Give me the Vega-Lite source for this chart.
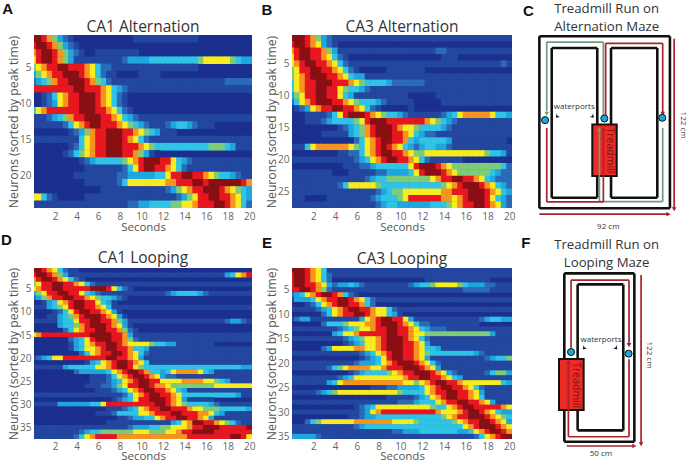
{"$schema":"https://vega.github.io/schema/vega-lite/v6.json","background":"white","padding":{"left":1,"top":1,"right":0,"bottom":0},"config":{"view":{"stroke":null},"font":"Open Sans","axis":{"domain":false,"ticks":false,"grid":false,"labelColor":"#666","labelFontSize":10,"titleColor":"#555","titleFontWeight":"normal"}},
"datasets":{
"a":[
{"n":1,"v":[9,9,8,7,5,3,2,1,0,0,0,0,0,0,0,0,0,0,0,1,1,1,1,1,1,1,1,1,1,1,1]},
{"n":2,"v":[8,9,9,8,7,5,3,2,1,0]},
{"n":3,"v":[7,8,9,9,8,7,5,3,2,1,0,0,1,1,1,1,1,1,1,1]},
{"n":4,"v":[6,8,9,9,8,7,5,3,1,1,1,1,1,1,1,1,1,2,3,3,3,3,4,4,4,4,4,4,4,4,4,5,6,6,6,6,6,5,4,3,3]},
{"n":5,"v":[5,6,7,8,8,9,9,8,8,8,7,6,4,2,2,1,1,1,1,1,1,1,1,1,1,1,1,1,1,1,1]},
{"n":6,"v":[3,5,6,7,8,8,9,9,9,8,7,6,4,2,1,1,0,0,0,0,1,1,1,1]},
{"n":7,"v":[2,3,4,5,7,8,8,9,9,9,8,7,5,4,2,1,1,1,1,1,1,1,1,1,1,1,1,1,1,1,1,1,1,1,1,1,2,2,2,2,2]},
{"n":8,"v":[8,8,8,8,8,8,8,8,9,9,8,8,8,7,6,4,3,2,1,1,1,1,1,1,1,1,1,1,1,1,1,1,1,1,1,1,1,1,1,1,1]},
{"n":9,"v":[0,0,1,2,4,6,7,8,8,9,9,9,8,7,6,4,2,1,0]},
{"n":10,"v":[0,0,1,2,3,6,7,8,8,9,9,9,8,7,6,4,2,1,0]},
{"n":11,"v":[4,6,7,8,8,8,8,8,8,9,9,9,8,8,7,6,4,2,1,0]},
{"n":12,"v":[1,1,1,2,3,4,5,7,8,8,9,9,9,8,8,7,6,4,3,2,1,1,1,1,1,1,1,1,1,1,1,1,1,1,1,1,1,1,1,1,1]},
{"n":13,"v":[1,1,1,1,1,1,2,4,6,7,8,9,9,8,8,8,7,6,5,4,3,2,1,1,1,2,3,4,4,3,2,1,1,1]},
{"n":14,"v":[0,0,0,0,0,0,0,1,2,3,5,7,8,8,9,9,9,8,8,7,6,5,4,3,1,1,1]},
{"n":15,"v":[1,1,1,1,1,1,1,1,1,4,6,7,8,8,9,9,9,8,7,6,4,2,1,1,1,1,1,1,1,1,1,1,1,1,1,1,1,1,1,1,1]},
{"n":16,"v":[0,0,0,0,0,0,0,1,2,4,6,7,8,8,9,9,9,8,8,8,7,6,5,4,4,4,4,4,4,4,4,4,4,5,5,5,4,3,1,1,1]},
{"n":17,"v":[0,0,0,0,0,0,1,2,4,5,6,7,8,8,9,9,9,8,8,7,5,3,1,0]},
{"n":18,"v":[0,0,0,0,0,0,0,0,0,1,2,3,4,4,4,4,4,5,6,7,8,9,9,9,8,8,6,4,3,2,1,1,1,1,1,1,1,1,1,1,1]},
{"n":19,"v":[0,0,0,0,0,0,0,0,0,0,1,1,1,1,1,1,1,2,4,6,8,9,9,8,8,7,6,4,2,1,1,1,1,1,1,1,1,1,1,1,1]},
{"n":20,"v":[0,0,0,0,0,0,0,0,1,1,1,1,1,1,1,1,2,2,3,3,3,3,3,4,4,6,8,8,9,9,8,8,7,6,5,4,4,3,2,1,1]},
{"n":21,"v":[0,0,0,0,0,0,0,0,0,0,1,1,1,1,1,1,2,4,6,6,6,6,6,6,6,7,7,8,8,8,9,9,8,9,9,9,9,9,9,8,7]},
{"n":22,"v":[0,0,0,0,0,0,0,0,0,0,0,0,0,1,1,1,1,1,1,1,1,1,1,1,1,2,3,5,6,7,8,8,9,9,9,8,7,6,5,4,3]},
{"n":23,"v":[6,6,4,2,1,0,0,0,0,0,1,1,1,1,1,1,1,1,1,1,1,1,1,1,1,1,1,2,3,5,6,8,8,9,9,8,8,7,6,4,3]},
{"n":24,"v":[1,1,1,1,1,1,1,1,1,1,1,1,1,1,1,1,1,1,2,2,3,3,4,4,4,4,5,5,6,6,7,8,8,8,9,9,8,7,6,4,2]}],
"b":[
{"n":1,"v":[9,9,9,8,7,5,3,2,1,1,1,1,1,1,1,1,1,1,1,1,1,1,1,1,1,1,1,1,1,1,1,1,1,1,1,1,1,1,1,1,1]},
{"n":2,"v":[8,9,9,8,7,6,3,2,1]},
{"n":3,"v":[7,8,9,9,8,8,7,5,3,1,1,1,1,1,1,1,1,1,1,1,1,1,1,1,1,1,1,2,2,1,1,1,1,1,1,1,1,1,1,1,1]},
{"n":4,"v":[6,8,9,9,8,8,7,6,4,2,1,0,0,0,0,0,0,0,0,0,0,0,0,0,0,0,0,0,1,1,1]},
{"n":5,"v":[6,7,8,9,9,8,8,7,6,4,2,1,1,1,1,1,1,1,1,1,1,1,1,1,1,1,1,1,1,1,1,1,1,1,1,1,1,1,1,2,1]},
{"n":6,"v":[5,6,8,8,9,9,8,8,7,6,4,2,1,0,0,0,0,0,1,1,1,1,1,1,1]},
{"n":7,"v":[5,6,7,8,9,9,9,8,8,7,6,4,3,3,1,1,1,1,1,1,1,1,1,1,1,1,1,1,1,1,1,1,1,1,1,1,1,1,1,1,1]},
{"n":8,"v":[4,6,7,8,8,9,9,9,8,8,8,7,6,5,4,4,4,4,3,2,2,2,2,2,2,1,1,1,1,1,1,1,1,1,1,1,1,1,1,1,1]},
{"n":9,"v":[4,6,7,8,8,9,9,8,8,6,5,4,4,3,2,1,1,1,1,1,1,1,1,1,1,1,1,1,1,1,1,1,1,1,1,1,1,1,1,1,1]},
{"n":10,"v":[3,5,6,8,8,9,9,8,8,6,4,3,1,1,1,1,1,1,1,1,1,1,0,0,0,0,0,1,1,1,1,1,1,1,1,1,1,1,1,1,1]},
{"n":11,"v":[2,4,6,7,8,9,9,9,8,8,7,6,5,4,4,4,3,2,1,1,1,1,1,0,0,0,0,0,1,1,1,1,1,1,1,1,1,1,1,1,1]},
{"n":12,"v":[0,1,2,3,6,7,8,8,9,9,8,8,7,6,4,2,1,0,0,0,0,0,1]},
{"n":13,"v":[0,0,0,1,1,1,1,2,4,6,8,9,9,9,8,7,6,5,4,4,3,2,1,1,1,1,1,1,2,3,4,6,7,7,7,7,7,6,4,4,3]},
{"n":14,"v":[0,0,0,1,1,1,2,3,4,4,4,4,5,6,8,9,9,9,8,8,8,8,8,8,8,7,6,5,4,3,2,1,1,1,1,1,1,1,1,1,1]},
{"n":15,"v":[0,0,0,0,0,0,0,0,0,1,2,3,4,5,7,8,9,9,9,8,7,6,6,5,4,4,4,4,3,2,1,1,1,1,1,1,1,1,1,1,1]},
{"n":16,"v":[0,0,0,0,0,0,1,1,1,1,1,3,4,5,7,8,9,9,9,8,8,7,6,4,3,2,2,1,1,1,1,1,1,1,1,1,1,1,1,1,1]},
{"n":17,"v":[0,0,0,0,0,0,0,0,0,0,0,0,2,4,6,7,8,9,9,8,8,7,4,3,4,4,4,4,4,3,1,1,1,1,1,1,1,1,1,1]},
{"n":18,"v":[1,1,1,4,6,7,7,7,7,7,7,6,5,4,6,7,8,9,8,7,6,4,3,2,3,4,4,3,3,2,1,1,1,1,1,1,1,1,1,1,1]},
{"n":19,"v":[0,0,0,0,0,0,0,0,0,1,1,2,2,4,6,7,8,9,9,8,8,7,6,5,5,6,6,6,6,6,6,6,6,6,6,6,5,4,4,3,1]},
{"n":20,"v":[1,1,1,1,1,1,1,1,1,1,1,1,2,3,4,6,7,8,9,9,8,8,7,6,4,2,1,1,1,1,1,1,0,0,0,0,0,0,0,0,0]},
{"n":21,"v":[0,0,0,0,0,0,0,0,0,0,1,1,1,2,2,3,4,4,4,4,4,4,6,8,9,9,9,8,7,6,5,5,5,5,5,5,5,5,5,4,2]},
{"n":22,"v":[1,1,1,1,1,1,1,1,0,0,0,1,1,1,1,1,2,2,3,3,3,3,4,6,8,9,9,9,8,7,6,5,5,5,5,5,5,4,3,2,2]},
{"n":23,"v":[1,1,1,1,1,1,1,1,1,1,1,1,1,1,2,3,4,4,5,5,5,5,5,5,5,5,6,7,8,8,9,9,8,8,7,6,4,3,2,2,2]},
{"n":24,"v":[1,1,1,1,1,1,1,1,1,2,4,6,6,6,6,6,5,4,4,4,4,4,4,4,4,4,4,4,5,6,7,8,9,9,9,8,7,6,4,3,2]},
{"n":25,"v":[1,1,1,1,1,1,1,1,1,1,1,1,1,1,1,1,2,3,4,5,5,6,6,6,6,6,6,6,7,7,8,8,8,9,9,9,8,7,6,4,3]},
{"n":26,"v":[1,1,1,0,0,0,0,1,1,1,1,1,1,1,1,2,3,4,4,4,5,6,8,8,8,8,8,8,7,7,6,7,8,9,9,9,8,6,4,3,2]},
{"n":27,"v":[1,1,1,1,1,1,1,1,1,1,1,1,1,1,1,1,2,3,4,4,3,3,3,3,3,3,4,4,4,5,6,7,8,8,9,9,8,7,6,3,2]}],
"d":[
{"n":1,"v":[9,9,8,7,6,4,2,1,1,0]},
{"n":2,"v":[8,9,9,8,7,5,3,1,1,1,1,1,1,1,1,1,1,1,1,1,1,1,1,1,1,1,1,1,1,1,1,1,1,1,1,1,3,4,6,7,8]},
{"n":3,"v":[7,8,9,9,8,7,6,4,2,1]},
{"n":4,"v":[5,6,8,8,9,9,8,8,7,6,4,2,1,1,1,1,1,1,1,1,1,1,1,1,1,1,1,1,1,1,1,1,1,1,1,1,1,1,1,1,1]},
{"n":5,"v":[6,7,8,8,9,9,8,8,8,8,8,9,9,9,8,6,4,2,1,0]},
{"n":6,"v":[3,5,6,8,8,9,9,8,8,6,4,3,2,1,1,1,1,1,1,1,1,1,1,1,1,2,3,4,4,4,4,3,2,1,1,1,1,1,1,1,1]},
{"n":7,"v":[2,3,5,7,8,8,9,9,8,8,7,6,5,4,4,3,2,1,0]},
{"n":8,"v":[0,0,1,3,4,6,7,8,9,9,8,8,6,4,3,1]},
{"n":9,"v":[1,1,1,3,4,5,6,8,9,9,8,8,7,6,4,1,1,1,1,1,1,1,1,1,1,1,1,1,1,1,1,1,1,1,1,1,1,1,1,1,1]},
{"n":10,"v":[0,0,0,0,1,2,4,6,8,9,9,8,8,7,6,3,1,0]},
{"n":11,"v":[0,0,0,1,1,3,4,5,7,8,9,9,9,8,7,6,3,1,0]},
{"n":12,"v":[1,1,1,1,1,3,4,4,6,8,8,9,9,8,8,7,5,3,1,1,1,1,1,1,1,1,1,1,1,1,1,1,1,1,1,1,2,3,3,2,1]},
{"n":13,"v":[0,0,0,0,0,3,4,4,5,7,8,9,9,9,8,7,6,3,1,0]},
{"n":14,"v":[0,0,0,0,0,0,2,4,6,7,8,8,9,9,8,8,7,5,2,1,0]},
{"n":15,"v":[6,7,8,8,8,8,8,8,8,8,8,9,9,9,9,8,8,7,3,1,1,1,1,1,1,1,1,1,1,1,1,1,1,1,1,1,1,1,1,1,1]},
{"n":16,"v":[0,0,0,0,0,0,0,2,3,4,6,8,9,9,9,8,8,7,5,2,1,1,1,1,1,1,1,1,1,1,1,1,1,1,1,1,1,1,1,1,1]},
{"n":17,"v":[0,0,0,0,0,0,0,1,3,4,6,7,8,8,9,9,8,7,6,6,6,6,5,4,4,3,3,1,1,1,1,1,1,1]},
{"n":18,"v":[0,0,0,0,0,0,0,1,3,4,6,6,7,8,9,9,8,8,7,4,4,3,1,1,1,1,1,1,1,1,1,1,1,1,1,1,1,1,1,1,1]},
{"n":19,"v":[0,0,0,0,0,0,0,0,0,2,4,6,7,8,8,9,9,8,7,6,4,2,1,1,1,1,1,1,1,1,1,1,1,1,1,1,1,1,1,1,1]},
{"n":20,"v":[1,2,3,4,6,6,8,8,8,8,8,8,8,8,9,9,8,8,7,6,3,1,1,1,1,1,1,1,1,1,1,1,1,1,1,1,1,1,1,1,1]},
{"n":21,"v":[0,0,0,0,0,0,0,0,0,0,1,3,4,6,7,8,9,9,8,7,6,4,1,1,1,1,1,1,1,1,1,1,1,1,1,1,1,1,1,1,1]},
{"n":22,"v":[1,1,1,1,1,1,3,4,4,4,4,4,6,6,7,8,9,9,8,6,5,4,4,4,4,4,4,4,4,4,4,4,4,4,4,4,4,4,4,3,3]},
{"n":23,"v":[0,0,0,0,0,0,0,0,2,3,3,3,3,3,4,6,7,8,9,9,8,7,4,4,3,4,6,7,7,7,7,6,4,3,1,1,1,1,1,1,1]},
{"n":24,"v":[0,0,0,0,0,0,0,0,0,0,0,1,1,1,2,4,6,7,8,9,9,8,7,6,3,2,2,1,1,1,1,1,1,1,1,1,1,1,1,1,1]},
{"n":25,"v":[0,0,0,0,0,0,0,0,0,0,0,1,1,1,2,3,4,6,7,8,9,9,8,8,6,6,6,6,7,7,7,7,6,6,5,4,3,1,1,1,1]},
{"n":26,"v":[0,0,0,0,0,0,0,0,0,0,1,1,1,2,2,3,5,6,8,8,9,9,8,7,7,6,5,5,5,5,5,5,5,5,6,6,6,6,6,6,6]},
{"n":27,"v":[0,0,0,0,0,0,0,0,0,0,0,0,1,1,1,2,3,4,6,7,8,9,9,8,8,7,6,4,3,1,1,1,1,1,1,1,1,1,1,1,1]},
{"n":28,"v":[1,1,1,1,1,1,1,1,1,1,1,1,1,1,1,1,1,2,4,6,7,8,9,9,8,8,7,6,4,4,4,4,4,4,4,4,4,4,3,1,1]},
{"n":29,"v":[0,0,0,0,0,0,0,0,0,0,0,0,0,0,0,1,2,3,4,6,8,8,9,9,9,8,7,6,3,1,1,1,1,1]},
{"n":30,"v":[1,1,1,1,1,3,3,3,3,3,3,4,4,6,8,8,8,8,8,8,8,8,8,9,9,8,7,6,5,4,4,4,4,3,2,1,1,1,1,1,1]},
{"n":31,"v":[0,0,0,0,0,0,0,0,0,0,0,0,0,0,1,1,1,2,3,4,6,7,8,8,9,9,8,8,8,7,6,6,5,5,5,4,4,4,4,4,3]},
{"n":32,"v":[0,0,0,0,0,0,0,0,0,0,0,0,1,1,1,2,4,4,4,4,6,6,7,8,8,8,9,9,8,8,8,7,7,6,4,3,1,1,1,1,1]},
{"n":33,"v":[0,0,0,0,0,0,0,0,0,0,0,0,0,0,0,0,1,1,2,3,3,4,4,6,7,8,8,9,9,8,8,7,6,3,1,1,1,1,1,1,1]},
{"n":34,"v":[0,0,0,0,0,0,0,0,0,0,0,0,0,0,1,1,1,1,1,1,1,1,1,1,1,1,3,4,6,7,9,9,8,8,7,6,5,4,2,1,1]},
{"n":35,"v":[1,1,1,1,1,1,1,1,1,1,1,1,1,1,1,1,1,1,2,3,3,3,4,4,5,5,6,6,6,7,8,8,9,9,9,8,8,8,8,8,9]},
{"n":36,"v":[1,1,1,1,1,1,1,1,1,2,3,4,4,5,5,5,5,5,5,6,6,6,5,5,5,6,6,7,8,8,9,9,9,9,8,8,8,8,8,8,8]},
{"n":37,"v":[1,1,1,1,1,1,1,1,2,4,6,7,8,8,8,8,7,7,7,7,7,7,7,7,7,7,7,7,7,8,8,8,8,8,8,8,8,9,9,8,6]}],
"e":[
{"n":1,"v":[9,9,9,8,7,6,4,1,1,1,1,1,1,1,1,1,1,1,1,1,1,1,1,1,1,1,1,1,1,1,1,1,1,1,1,1,1,1,1,1,1]},
{"n":2,"v":[8,9,9,8,7,6,4,2,1,1,1,1,1,1,1,1,1,1,1,1,1,1,1,1,1,1,1,1,1,1,1,1,1,1,1,1,1,1,1,1,1]},
{"n":3,"v":[8,9,9,8,7,6,4,2,0,0,0,0,0,0,0,0,0,0,0,0,0,0,0,0,0,1,1,1,1,1,1,1,1,1,1,1,1,0,0,0,0]},
{"n":4,"v":[8,9,9,8,8,7,6,3,2,3,3,4,3,2,1,1,1,1,1,1,1,1,2,3,4,4,5,6,6,6,6,5,4,3,3,3,2,2,1,1,1]},
{"n":5,"v":[8,8,9,9,8,7,5,2,1,1,1,1,1,1,1,1,1,1,1,1,1,1,1,1,1,1,1,1,1,1,1,1,2,2,2,2,2,1,1,1,1]},
{"n":6,"v":[2,3,4,6,7,8,9,9,8,7,4,2,1,0]},
{"n":7,"v":[1,3,3,3,4,6,7,8,8,9,9,8,7,6,4,2,1,1,1,1,1,1,1,1,1,1,1,1,1,1,1,1,1,1,1,1,1,1,1,1,1]},
{"n":8,"v":[0,0,0,1,2,4,6,7,8,9,9,8,8,7,4,2,0]},
{"n":9,"v":[1,1,1,1,1,2,3,4,6,7,8,9,9,8,8,7,6,6,4,2,1,1,1,1,1,1,1,1,1,1,1,1,1,1,1,1,1,1,1,1,1]},
{"n":10,"v":[0,0,0,0,0,0,2,4,6,7,8,8,9,9,8,7,6,6,4,3,1,0]},
{"n":11,"v":[1,2,3,3,1,1,1,1,1,1,1,1,1,3,6,7,8,9,9,8,8,6,3,1,1,1,1,1,1,1,1,1,1,1,1,2,3,4,4,3,3]},
{"n":12,"v":[0,0,0,0,0,0,2,4,4,4,5,6,6,6,7,7,8,9,9,9,8,7,6,4,2,2,1,1,1,1,1,1,1,1,1]},
{"n":13,"v":[1,1,1,1,1,1,1,1,1,2,3,4,5,6,6,7,8,8,9,9,8,8,7,6,4,3,2,2,2,1,1,1,1,1,1,1,1,1,1,1,1]},
{"n":14,"v":[0,0,0,0,0,0,0,0,3,4,6,6,7,8,8,8,8,8,9,9,8,8,7,6,6,5,5,5,5,5,5,5,5,5,5,5,5,3,1,1,1]},
{"n":15,"v":[1,1,1,1,1,1,1,1,1,1,2,3,4,5,6,6,7,8,9,9,9,8,7,6,4,2,1,1,1,1,1,1,1,1,1,1,1,1,1,1,1]},
{"n":16,"v":[0,0,0,0,0,0,0,0,0,0,1,2,3,4,6,6,7,8,9,9,9,8,8,7,6,3,1,1,1,1,1,1,1,1,1,1,1,1,1,1,1]},
{"n":17,"v":[0,0,0,0,0,0,2,3,6,6,6,6,7,7,6,6,7,8,9,9,9,8,8,7,6,4,4,3,1,1,1,1,1,1,1,1,1,1,1,1,1]},
{"n":18,"v":[1,1,1,1,1,1,1,1,1,1,1,1,1,2,3,4,6,7,8,9,9,8,8,7,6,5,4,4,4,4,4,4,4,4,3,2,1,1,1,1,1]},
{"n":19,"v":[0,0,0,0,0,0,0,0,0,0,0,0,0,1,2,3,4,6,8,9,9,8,8,7,6,3,1,1,1,1,1,1,1,1,1,1,2,3,4,4,5]},
{"n":20,"v":[1,1,1,1,1,1,1,1,1,1,1,1,2,3,3,3,4,6,7,8,9,9,9,8,7,6,4,2,1,1,1,1,1,1,1,1,1,1,1,1,1]},
{"n":21,"v":[1,1,1,1,1,1,1,2,4,5,6,7,7,7,7,6,6,7,8,8,8,9,9,9,8,7,6,3,1,1,1,1,1,1,1,1,1,1,1,1,1]},
{"n":22,"v":[0,0,0,0,0,0,0,0,0,0,0,1,2,3,4,4,4,4,5,6,7,8,8,9,9,9,8,7,6,3,2,1,1,1,1,1,2,4,5,5,3]},
{"n":23,"v":[1,1,1,1,1,1,1,1,1,2,3,4,6,6,6,6,6,6,6,6,6,7,8,8,9,9,8,8,7,6,4,3,1,1,1,1,1,1,1,1,1]},
{"n":24,"v":[1,1,1,1,1,1,1,3,4,6,7,7,7,7,7,7,7,7,7,7,7,6,6,5,6,7,8,9,9,8,8,7,6,6,6,6,6,6,6,4,3]},
{"n":25,"v":[0,0,0,0,0,0,0,0,0,0,0,0,0,0,0,1,1,1,2,2,3,3,3,3,4,6,7,8,9,9,8,8,7,6,4,2,1,1,1,1,1]},
{"n":26,"v":[1,1,1,1,1,2,3,4,5,6,6,6,6,6,6,6,6,6,6,6,5,4,4,4,4,6,7,8,8,9,9,8,8,7,6,3,1,1,1,1,1]},
{"n":27,"v":[0,0,0,0,0,0,0,0,0,0,0,0,0,0,0,0,0,0,1,1,1,1,1,2,3,4,6,7,8,9,9,8,8,7,6,4,1,1,1,1,1]},
{"n":28,"v":[1,1,1,1,1,1,1,1,1,1,1,1,1,1,1,1,1,1,1,1,2,2,2,3,4,4,4,6,7,8,8,9,9,8,8,7,6,3,1,1,1]},
{"n":29,"v":[0,0,0,0,0,0,0,0,0,0,0,0,1,2,3,4,6,6,6,6,6,6,6,6,6,6,5,4,4,6,7,8,9,9,8,8,8,8,8,7,6]},
{"n":30,"v":[1,1,1,1,1,1,1,1,1,1,1,1,1,2,3,6,7,8,8,8,8,8,8,8,8,8,8,7,6,6,6,7,8,9,9,8,7,6,4,3,3]},
{"n":31,"v":[0,0,0,0,0,0,0,0,0,0,0,1,1,2,3,3,4,4,4,4,4,4,4,4,4,4,4,4,5,6,7,8,8,9,9,9,8,7,6,5,4]},
{"n":32,"v":[0,0,0,2,4,5,6,6,6,6,6,6,7,7,7,7,7,7,7,6,6,6,6,5,4,4,4,4,4,4,5,6,7,8,8,9,9,8,7,6,3]},
{"n":33,"v":[1,1,1,1,1,1,1,1,1,1,1,1,2,3,4,4,4,4,4,4,4,4,4,4,4,4,4,4,4,4,4,4,6,7,8,9,9,9,8,7,6]},
{"n":34,"v":[1,1,1,1,1,1,1,1,1,1,1,1,1,1,1,1,1,1,1,2,2,3,3,3,4,4,4,4,4,4,4,3,3,4,6,7,8,9,9,8,7]},
{"n":35,"v":[3,3,3,3,3,2,1,1,1,1,1,1,1,1,1,1,1,1,1,1,1,1,1,1,1,1,1,1,1,1,1,1,1,1,2,4,6,7,8,9,9]}]
},
"bounds":"flush","columns":3,"spacing":{"column":40,"row":60},
"concat":[
{"width":218,"height":173,"view":{"fill":"#1b2f8e"},"layer":[
{"data":{"name":"a"},"transform":[{"flatten":["v"]},{"window":[{"op":"row_number","as":"i"}],"groupby":["n"]}],"mark":{"type":"rect","width":6,"height":7.6,"clip":true},"encoding":{
"x":{"field":"i","type":"quantitative","scale":{"domain":[1.1,41.5],"nice":false,"zero":false},"axis":{"values":[5,9,13,17,21,25,29,33,37,41],"tickCount":50,"labelOverlap":false,"labelExpr":"(datum.value-1)/2","labelPadding":3,"title":"Seconds","titlePadding":0,"titleFontSize":11.5}},
"y":{"field":"n","type":"quantitative","scale":{"domain":[0.5,24.5],"reverse":true,"nice":false,"zero":false},"axis":{"values":[5,10,15,20],"format":"d","tickCount":50,"labelOverlap":false,"labelPadding":3,"title":"Neurons (sorted by peak time)","titleFontSize":12.2,"titlePadding":-1}},
"color":{"field":"v","type":"quantitative","scale":{"domain":[0,1,2,3,4,5,6,7,8,9],"range":["#1b2f8e","#23479f","#2a6ab8","#1ea6dd","#2fc4e6","#7ecb78","#f8ec1e","#f7941e","#e8171f","#8a0f13"]},"legend":null}}},
{"data":{"values":[{"i":21.3,"n":-0.6,"l":"CA1 Alternation"}]},"mark":{"type":"text","fontSize":15.5,"color":"#333"},"encoding":{"x":{"field":"i","type":"quantitative"},"y":{"field":"n","type":"quantitative"},"text":{"field":"l"}}},
{"data":{"values":[{"i":-3.8,"n":-3.1,"l":"A"}]},"mark":{"type":"text","font":"Liberation Sans","fontWeight":"bold","fontSize":15,"color":"#111"},"encoding":{"x":{"field":"i","type":"quantitative"},"y":{"field":"n","type":"quantitative"},"text":{"field":"l"}}}]},
{"width":220,"height":173,"view":{"fill":"#1b2f8e"},"layer":[
{"data":{"name":"b"},"transform":[{"flatten":["v"]},{"window":[{"op":"row_number","as":"i"}],"groupby":["n"]}],"mark":{"type":"rect","width":6,"height":6.8,"clip":true},"encoding":{
"x":{"field":"i","type":"quantitative","scale":{"domain":[1.1,41.5],"nice":false,"zero":false},"axis":{"values":[5,9,13,17,21,25,29,33,37,41],"tickCount":50,"labelOverlap":false,"labelExpr":"(datum.value-1)/2","labelPadding":3,"title":"Seconds","titlePadding":0,"titleFontSize":11.5}},
"y":{"field":"n","type":"quantitative","scale":{"domain":[0.5,27.5],"reverse":true,"nice":false,"zero":false},"axis":{"values":[5,10,15,20,25],"format":"d","tickCount":50,"labelOverlap":false,"labelPadding":3,"title":"Neurons (sorted by peak time)","titleFontSize":12.2,"titlePadding":-1}},
"color":{"field":"v","type":"quantitative","scale":{"domain":[0,1,2,3,4,5,6,7,8,9],"range":["#1b2f8e","#23479f","#2a6ab8","#1ea6dd","#2fc4e6","#7ecb78","#f8ec1e","#f7941e","#e8171f","#8a0f13"]},"legend":null}}},
{"data":{"values":[{"i":21.3,"n":-0.75,"l":"CA3 Alternation"}]},"mark":{"type":"text","fontSize":15.5,"color":"#333"},"encoding":{"x":{"field":"i","type":"quantitative"},"y":{"field":"n","type":"quantitative"},"text":{"field":"l"}}},
{"data":{"values":[{"i":-3.5,"n":-3.4,"l":"B"}]},"mark":{"type":"text","font":"Liberation Sans","fontWeight":"bold","fontSize":15,"color":"#111"},"encoding":{"x":{"field":"i","type":"quantitative"},"y":{"field":"n","type":"quantitative"},"text":{"field":"l"}}}]},
{"width":128,"height":173,"layer":[
{"data":{"values":[{"x":0,"y":0,"x2":92,"y2":0},{"x":0,"y":122,"x2":92,"y2":122},{"x":0,"y":0,"x2":0,"y2":122},{"x":92,"y":0,"x2":92,"y2":122},{"x":8.7,"y":7.5,"x2":40.8,"y2":7.5},{"x":8.7,"y":113.7,"x2":40.8,"y2":113.7},{"x":8.7,"y":7.5,"x2":8.7,"y2":113.7},{"x":40.8,"y":7.5,"x2":40.8,"y2":113.7},{"x":50.5,"y":7.5,"x2":83.1,"y2":7.5},{"x":50.5,"y":113.7,"x2":83.1,"y2":113.7},{"x":50.5,"y":7.5,"x2":50.5,"y2":113.7},{"x":83.1,"y":7.5,"x2":83.1,"y2":113.7}]},"mark":{"type":"rule","strokeWidth":2.6,"color":"#111"},"encoding":{"x":{"field":"x","type":"quantitative","scale":{"domain":[8.9,99.1],"nice":false,"zero":false},"axis":null},"x2":{"field":"x2"},"y":{"field":"y","type":"quantitative","scale":{"domain":[0.2,122.9],"nice":false,"zero":false},"axis":null},"y2":{"field":"y2"}}},
{"data":{"values":[{"x":37.3,"x2":54.5,"y":22.9,"y2":59.4}]},"mark":{"type":"rect","fill":"#ee2a24","stroke":"#111","strokeWidth":2},"encoding":{"x":{"field":"x","type":"quantitative"},"x2":{"field":"x2"},"y":{"field":"y","type":"quantitative"},"y2":{"field":"y2"}}},
{"data":{"values":[{"k":"green","x":5.2,"y":68.9,"x2":5.2,"y2":117.9},{"k":"green","x":5.2,"y":117.9,"x2":45.1,"y2":117.9},{"k":"green","x":45.1,"y":117.9,"x2":45.1,"y2":66},{"k":"green","x":42.3,"y":55,"x2":42.3,"y2":4.7},{"k":"green","x":42.3,"y":4.7,"x2":86.9,"y2":4.7},{"k":"green","x":86.9,"y":4.7,"x2":86.9,"y2":57},{"k":"red","x":46.7,"y":66,"x2":46.7,"y2":117},{"k":"red","x":46.7,"y":117,"x2":86.9,"y2":117},{"k":"red","x":86.9,"y":117,"x2":86.9,"y2":68},{"k":"red","x":5.2,"y":57,"x2":5.2,"y2":4.5},{"k":"red","x":5.2,"y":4.5,"x2":45.1,"y2":4.5},{"k":"red","x":45.1,"y":4.5,"x2":45.1,"y2":55},{"k":"red","x":95,"y":120.3,"x2":95,"y2":-0.7},{"k":"red","x":0,"y":-4.2,"x2":91,"y2":-4.2}]},"mark":{"type":"rule","strokeWidth":1.7},"encoding":{"x":{"field":"x","type":"quantitative"},"x2":{"field":"x2"},"y":{"field":"y","type":"quantitative"},"y2":{"field":"y2"},"color":{"field":"k","type":"nominal","scale":{"domain":["red","green"],"range":["#a6232f","#6f9c80"]},"legend":null}}},
{"data":{"values":[{"k":"green","d":"d","x":5.2,"y":67},{"k":"red","d":"d","x":86.9,"y":67},{"k":"green","d":"u","x":42.3,"y":56},{"k":"red","d":"u","x":45.1,"y":56},{"k":"red","d":"d","x":95,"y":-0.7},{"k":"red","d":"r","x":91,"y":-4.2}]},"mark":{"type":"point","filled":true,"opacity":1,"size":22},"encoding":{"x":{"field":"x","type":"quantitative"},"y":{"field":"y","type":"quantitative"},"color":{"field":"k","type":"nominal","scale":{"domain":["red","green"],"range":["#a6232f","#6f9c80"]},"legend":null},"shape":{"field":"d","type":"nominal","scale":{"domain":["u","d","r"],"range":["triangle-up","triangle-down","triangle-right"]},"legend":null}}},
{"data":{"values":[{"x":4,"y":62.5},{"x":45.8,"y":63.7},{"x":86.6,"y":64.2}]},"mark":{"type":"point","filled":true,"opacity":1,"size":50,"fill":"#19a8d8","stroke":"#111","strokeWidth":1},"encoding":{"x":{"field":"x","type":"quantitative"},"y":{"field":"y","type":"quantitative"}}},
{"data":{"values":[{"x":12.7,"y":65.3}]},"mark":{"type":"point","filled":true,"opacity":1,"size":22,"shape":"M-1,-0.6L0,1L1,-0.6L0,-0.1Z","color":"#111","angle":45},"encoding":{"x":{"field":"x","type":"quantitative"},"y":{"field":"y","type":"quantitative"}}},
{"data":{"values":[{"x":37.3,"y":65.3}]},"mark":{"type":"point","filled":true,"opacity":1,"size":22,"shape":"M-1,-0.6L0,1L1,-0.6L0,-0.1Z","color":"#111","angle":-45},"encoding":{"x":{"field":"x","type":"quantitative"},"y":{"field":"y","type":"quantitative"}}},
{"data":{"values":[{"x":24.6,"y":71.7,"l":"waterports"},{"x":48.6,"y":-13.2,"l":"92 cm"}]},"mark":{"type":"text","fontSize":8,"color":"#333"},"encoding":{"x":{"field":"x","type":"quantitative"},"y":{"field":"y","type":"quantitative"},"text":{"field":"l"}}},
{"data":{"values":[{"x":101.4,"y":59,"l":"122 cm"}]},"mark":{"type":"text","fontSize":8,"color":"#333","angle":90},"encoding":{"x":{"field":"x","type":"quantitative"},"y":{"field":"y","type":"quantitative"},"text":{"field":"l"}}},
{"data":{"values":[{"x":49.8,"y":41,"l":"Treadmill"}]},"mark":{"type":"text","fontSize":10.5,"color":"#7a1414","angle":90},"encoding":{"x":{"field":"x","type":"quantitative"},"y":{"field":"y","type":"quantitative"},"text":{"field":"l"}}},
{"data":{"values":[{"x":47.4,"y":141.5,"l":"Treadmill Run on"},{"x":47.4,"y":128.5,"l":"Alternation Maze"}]},"mark":{"type":"text","fontSize":13.2,"color":"#333"},"encoding":{"x":{"field":"x","type":"quantitative"},"y":{"field":"y","type":"quantitative"},"text":{"field":"l"}}},
{"data":{"values":[{"x":-7.7,"y":140,"l":"C"}]},"mark":{"type":"text","font":"Liberation Sans","fontWeight":"bold","fontSize":15,"color":"#111"},"encoding":{"x":{"field":"x","type":"quantitative"},"y":{"field":"y","type":"quantitative"},"text":{"field":"l"}}}
]},
{"width":218,"height":171,"view":{"fill":"#1b2f8e"},"layer":[
{"data":{"name":"d"},"transform":[{"flatten":["v"]},{"window":[{"op":"row_number","as":"i"}],"groupby":["n"]}],"mark":{"type":"rect","width":6,"height":5,"clip":true},"encoding":{
"x":{"field":"i","type":"quantitative","scale":{"domain":[1.1,41.5],"nice":false,"zero":false},"axis":{"values":[5,9,13,17,21,25,29,33,37,41],"tickCount":50,"labelOverlap":false,"labelExpr":"(datum.value-1)/2","labelPadding":2,"title":"Seconds","titlePadding":-1,"titleFontSize":11.5}},
"y":{"field":"n","type":"quantitative","scale":{"domain":[0.5,37.5],"reverse":true,"nice":false,"zero":false},"axis":{"values":[5,10,15,20,25,30,35],"format":"d","tickCount":50,"labelOverlap":false,"labelPadding":3,"title":"Neurons (sorted by peak time)","titleFontSize":12.2,"titlePadding":-1}},
"color":{"field":"v","type":"quantitative","scale":{"domain":[0,1,2,3,4,5,6,7,8,9],"range":["#1b2f8e","#23479f","#2a6ab8","#1ea6dd","#2fc4e6","#7ecb78","#f8ec1e","#f7941e","#e8171f","#8a0f13"]},"legend":null}}},
{"data":{"values":[{"i":21.3,"n":-1.66,"l":"CA1 Looping"}]},"mark":{"type":"text","fontSize":15.5,"color":"#333"},"encoding":{"x":{"field":"i","type":"quantitative"},"y":{"field":"n","type":"quantitative"},"text":{"field":"l"}}},
{"data":{"values":[{"i":-4,"n":-5.56,"l":"D"}]},"mark":{"type":"text","font":"Liberation Sans","fontWeight":"bold","fontSize":15,"color":"#111"},"encoding":{"x":{"field":"i","type":"quantitative"},"y":{"field":"n","type":"quantitative"},"text":{"field":"l"}}}]},
{"width":220,"height":171,"view":{"fill":"#1b2f8e"},"layer":[
{"data":{"name":"e"},"transform":[{"flatten":["v"]},{"window":[{"op":"row_number","as":"i"}],"groupby":["n"]}],"mark":{"type":"rect","width":6,"height":5.3,"clip":true},"encoding":{
"x":{"field":"i","type":"quantitative","scale":{"domain":[1.1,41.5],"nice":false,"zero":false},"axis":{"values":[5,9,13,17,21,25,29,33,37,41],"tickCount":50,"labelOverlap":false,"labelExpr":"(datum.value-1)/2","labelPadding":2,"title":"Seconds","titlePadding":-1,"titleFontSize":11.5}},
"y":{"field":"n","type":"quantitative","scale":{"domain":[0.5,35.5],"reverse":true,"nice":false,"zero":false},"axis":{"values":[5,10,15,20,25,30,35],"format":"d","tickCount":50,"labelOverlap":false,"labelPadding":3,"title":"Neurons (sorted by peak time)","titleFontSize":12.2,"titlePadding":-1}},
"color":{"field":"v","type":"quantitative","scale":{"domain":[0,1,2,3,4,5,6,7,8,9],"range":["#1b2f8e","#23479f","#2a6ab8","#1ea6dd","#2fc4e6","#7ecb78","#f8ec1e","#f7941e","#e8171f","#8a0f13"]},"legend":null}}},
{"data":{"values":[{"i":21.3,"n":-1.34,"l":"CA3 Looping"}]},"mark":{"type":"text","fontSize":15.5,"color":"#333"},"encoding":{"x":{"field":"i","type":"quantitative"},"y":{"field":"n","type":"quantitative"},"text":{"field":"l"}}},
{"data":{"values":[{"i":-3.5,"n":-4.6,"l":"E"}]},"mark":{"type":"text","font":"Liberation Sans","fontWeight":"bold","fontSize":15,"color":"#111"},"encoding":{"x":{"field":"i","type":"quantitative"},"y":{"field":"n","type":"quantitative"},"text":{"field":"l"}}}]},
{"width":128,"height":171,"layer":[
{"data":{"values":[{"x":0,"y":0,"x2":50,"y2":0},{"x":0,"y":122,"x2":50,"y2":122},{"x":0,"y":0,"x2":0,"y2":122},{"x":50,"y":0,"x2":50,"y2":122},{"x":9.5,"y":8.2,"x2":42.1,"y2":8.2},{"x":9.5,"y":114,"x2":42.1,"y2":114},{"x":9.5,"y":8.2,"x2":9.5,"y2":114},{"x":42.1,"y":8.2,"x2":42.1,"y2":114}]},"mark":{"type":"rule","strokeWidth":2.6,"color":"#111"},"encoding":{"x":{"field":"x","type":"quantitative","scale":{"domain":[-8.8,82.6],"nice":false,"zero":false},"axis":null},"x2":{"field":"x2"},"y":{"field":"y","type":"quantitative","scale":{"domain":[1.96,125.9],"nice":false,"zero":false},"axis":null},"y2":{"field":"y2"}}},
{"data":{"values":[{"x":-3.8,"x2":13.8,"y":22.9,"y2":59.9}]},"mark":{"type":"rect","fill":"#ee2a24","stroke":"#111","strokeWidth":2},"encoding":{"x":{"field":"x","type":"quantitative"},"x2":{"field":"x2"},"y":{"field":"y","type":"quantitative"},"y2":{"field":"y2"}}},
{"data":{"values":[{"x":4.8,"y":68.1,"x2":4.8,"y2":117.1},{"x":4.8,"y":117.1,"x2":46.2,"y2":117.1},{"x":46.2,"y":117.1,"x2":46.2,"y2":70.5},{"x":46.2,"y":59.7,"x2":46.2,"y2":3.6},{"x":46.2,"y":3.6,"x2":2.9,"y2":3.6},{"x":2.9,"y":3.6,"x2":2.9,"y2":57.2},{"x":54.8,"y":120.8,"x2":54.8,"y2":-1.9},{"x":1.7,"y":-3.1,"x2":50,"y2":-3.1}]},"mark":{"type":"rule","strokeWidth":1.7,"color":"#a6232f"},"encoding":{"x":{"field":"x","type":"quantitative"},"x2":{"field":"x2"},"y":{"field":"y","type":"quantitative"},"y2":{"field":"y2"}}},
{"data":{"values":[{"d":"d","x":46.2,"y":70},{"d":"u","x":2.9,"y":58},{"d":"d","x":54.8,"y":-1.9},{"d":"r","x":50,"y":-3.1}]},"mark":{"type":"point","filled":true,"opacity":1,"size":22,"color":"#a6232f"},"encoding":{"x":{"field":"x","type":"quantitative"},"y":{"field":"y","type":"quantitative"},"shape":{"field":"d","type":"nominal","scale":{"domain":["u","d","r"],"range":["triangle-up","triangle-down","triangle-right"]},"legend":null}}},
{"data":{"values":[{"x":4.8,"y":65},{"x":45.9,"y":63.8}]},"mark":{"type":"point","filled":true,"opacity":1,"size":50,"fill":"#19a8d8","stroke":"#111","strokeWidth":1},"encoding":{"x":{"field":"x","type":"quantitative"},"y":{"field":"y","type":"quantitative"}}},
{"data":{"values":[{"x":14.3,"y":68.1}]},"mark":{"type":"point","filled":true,"opacity":1,"size":22,"shape":"M-1,-0.6L0,1L1,-0.6L0,-0.1Z","color":"#111","angle":45},"encoding":{"x":{"field":"x","type":"quantitative"},"y":{"field":"y","type":"quantitative"}}},
{"data":{"values":[{"x":36.7,"y":68.1}]},"mark":{"type":"point","filled":true,"opacity":1,"size":22,"shape":"M-1,-0.6L0,1L1,-0.6L0,-0.1Z","color":"#111","angle":-45},"encoding":{"x":{"field":"x","type":"quantitative"},"y":{"field":"y","type":"quantitative"}}},
{"data":{"values":[{"x":26.2,"y":73.7,"l":"waterports"},{"x":26.2,"y":-8.7,"l":"50 cm"}]},"mark":{"type":"text","fontSize":8,"color":"#333"},"encoding":{"x":{"field":"x","type":"quantitative"},"y":{"field":"y","type":"quantitative"},"text":{"field":"l"}}},
{"data":{"values":[{"x":60.5,"y":62.8,"l":"122 cm"}]},"mark":{"type":"text","fontSize":8,"color":"#333","angle":90},"encoding":{"x":{"field":"x","type":"quantitative"},"y":{"field":"y","type":"quantitative"},"text":{"field":"l"}}},
{"data":{"values":[{"x":8.1,"y":41,"l":"Treadmill"}]},"mark":{"type":"text","fontSize":10.5,"color":"#7a1414","angle":90},"encoding":{"x":{"field":"x","type":"quantitative"},"y":{"field":"y","type":"quantitative"},"text":{"field":"l"}}},
{"data":{"values":[{"x":30.2,"y":142.5,"l":"Treadmill Run on"},{"x":30.2,"y":129.2,"l":"Looping Maze"}]},"mark":{"type":"text","fontSize":13.2,"color":"#333"},"encoding":{"x":{"field":"x","type":"quantitative"},"y":{"field":"y","type":"quantitative"},"text":{"field":"l"}}},
{"data":{"values":[{"x":-27.4,"y":144,"l":"F"}]},"mark":{"type":"text","font":"Liberation Sans","fontWeight":"bold","fontSize":15,"color":"#111"},"encoding":{"x":{"field":"x","type":"quantitative"},"y":{"field":"y","type":"quantitative"},"text":{"field":"l"}}}
]}
]}
